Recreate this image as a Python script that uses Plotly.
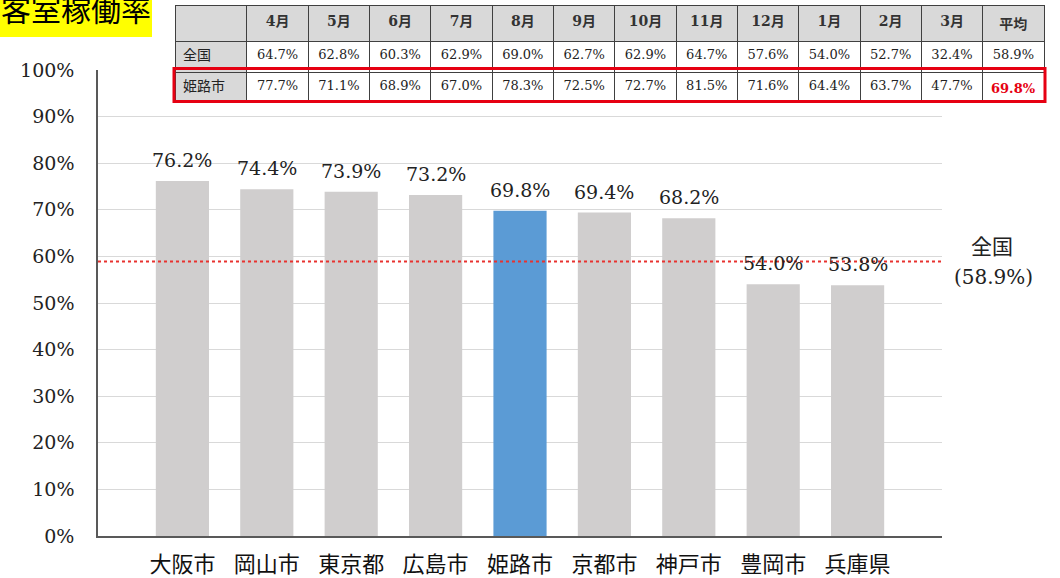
import plotly.graph_objects as go

W, H = 1060, 578


def px_x(x):
    return x / W


def px_y(y):
    return 1 - y / H


# ---------------- data ----------------
title_text = "客室稼働率"
cities = ["大阪市", "岡山市", "東京都", "広島市", "姫路市", "京都市", "神戸市", "豊岡市", "兵庫県"]
occupancy = [76.2, 74.4, 73.9, 73.2, 69.8, 69.4, 68.2, 54.0, 53.8]
highlight_city = "姫路市"
national_avg = 58.9
national_label = "全国"

months = ["4月", "5月", "6月", "7月", "8月", "9月", "10月", "11月", "12月", "1月", "2月", "3月", "平均"]
row_labels = ["全国", "姫路市"]
national_monthly = [64.7, 62.8, 60.3, 62.9, 69.0, 62.7, 62.9, 64.7, 57.6, 54.0, 52.7, 32.4, 58.9]
himeji_monthly = [77.7, 71.1, 68.9, 67.0, 78.3, 72.5, 72.7, 81.5, 71.6, 64.4, 63.7, 47.7, 69.8]
y_ticks = [0, 10, 20, 30, 40, 50, 60, 70, 80, 90, 100]

# ---------------- styles ----------------
SERIF = "DejaVu Serif, Liberation Serif, Noto Sans CJK JP, serif"
SANS_JP = "Noto Sans CJK JP, Noto Sans, sans-serif"
GRAY_BAR = "#d0cece"
BLUE_BAR = "#5b9bd5"
TXT = "#222222"
RED = "#e60012"

fig = go.Figure()

bar_colors = [BLUE_BAR if c == highlight_city else GRAY_BAR for c in cities]
fig.add_trace(go.Bar(
    x=cities, y=occupancy, marker=dict(color=bar_colors, line=dict(width=0)),
    width=0.63, hoverinfo="x+y", showlegend=False,
))

# value labels above bars
for c, v in zip(cities, occupancy):
    fig.add_annotation(
        x=c, y=v, xref="x", yref="y", text=f"{v:.1f}%", showarrow=False,
        xanchor="center", yanchor="bottom", yshift=8,
        font=dict(family=SERIF, size=19, color=TXT),
    )

# national average line
fig.add_shape(
    type="line", xref="x", yref="y", x0=-1, x1=len(cities), y0=national_avg, y1=national_avg,
    line=dict(color="#e8322f", width=2, dash="dot"), layer="above",
)
fig.add_annotation(
    xref="paper", yref="paper", x=px_x(992), y=px_y(245), text=national_label,
    xanchor="center", yanchor="middle",
    showarrow=False, font=dict(family=SANS_JP, size=21, color=TXT),
)
fig.add_annotation(
    xref="paper", yref="paper", x=px_x(993), y=px_y(277), text=f"({national_avg:.1f}%)",
    xanchor="center", yanchor="middle",
    showarrow=False, font=dict(family=SERIF, size=20, color=TXT),
)

# ---------------- table ----------------
n_cols = len(months)
cell_values = [row_labels]
for i, m in enumerate(months):
    h_txt = f"{himeji_monthly[i]:.1f}%"
    if i == n_cols - 1:
        h_txt = f"<b>{h_txt}</b>"
    cell_values.append([f"{national_monthly[i]:.1f}%", h_txt])

fill_colors = ["#d9d9d9"] + ["#ffffff" for _ in months]
font_colors = [[TXT, TXT] for _ in range(n_cols)] + [[TXT, RED]]
font_families = [SANS_JP] + [SERIF for _ in months]
font_sizes = [14] + [13 for _ in months]
header_families = [SANS_JP] + [SERIF for _ in months[:-1]] + [SANS_JP]

fig.add_trace(go.Table(
    domain=dict(x=[px_x(175), px_x(1045)], y=[px_y(102), px_y(5)]),
    columnwidth=[72] + [61.4] * n_cols,
    header=dict(
        values=[""] + [f"<b>{m}</b>" for m in months],
        fill=dict(color="#d9d9d9"),
        line=dict(color="#404040", width=1),
        align="center",
        height=32,
        font=dict(family=header_families, size=14, color="#333333"),
    ),
    cells=dict(
        values=cell_values,
        fill=dict(color=fill_colors),
        line=dict(color="#404040", width=1),
        align=["left"] + ["center"] * n_cols,
        height=31.5,
        font=dict(family=font_families, size=font_sizes, color=font_colors),
    ),
))

# red outline around 姫路市 row
fig.add_shape(
    type="rect", xref="paper", yref="paper",
    x0=px_x(174), x1=px_x(1045), y0=px_y(101.5), y1=px_y(68.5),
    line=dict(color=RED, width=3), fillcolor="rgba(0,0,0,0)", layer="above",
)

# title box (clipped at the top-left corner like the reference)
fig.add_shape(
    type="rect", xref="paper", yref="paper",
    x0=0, x1=px_x(152), y0=px_y(37), y1=1.01,
    line=dict(width=0), fillcolor="#ffff00", layer="below",
)
fig.add_annotation(
    xref="paper", yref="paper", x=px_x(-1), y=px_y(8), xanchor="left", yanchor="middle",
    text=title_text, showarrow=False, font=dict(family=SANS_JP, size=30, color="#000000"),
)

fig.update_layout(
    template="none",
    width=W, height=H,
    margin=dict(l=0, r=0, t=0, b=0, pad=0),
    paper_bgcolor="white", plot_bgcolor="white",
    showlegend=False,
    xaxis=dict(
        domain=[px_x(98), px_x(942)], type="category", range=[-1, len(cities)],
        showline=True, linecolor="#595959", linewidth=2, ticks="",
        tickfont=dict(family=SANS_JP, size=22, color="#111111"),
        ticklabelstandoff=8, showgrid=False, zeroline=False, fixedrange=True,
        automargin=False,
    ),
    yaxis=dict(
        domain=[px_y(536), px_y(70)], range=[0, 100], tickvals=y_ticks,
        ticktext=[f"{t}%" for t in y_ticks],
        showgrid=True, gridcolor="#d9d9d9", gridwidth=1, zeroline=False,
        showline=True, linecolor="#595959", linewidth=1.5, ticks="",
        tickfont=dict(family=SERIF, size=19, color=TXT),
        ticklabelstandoff=18, fixedrange=True, automargin=False,
    ),
    font=dict(family=SANS_JP),
)

fig.write_html(
    "out.html",
    config={"displayModeBar": False},
    post_script="document.body.style.margin='0';document.body.style.overflow='hidden';",
)
